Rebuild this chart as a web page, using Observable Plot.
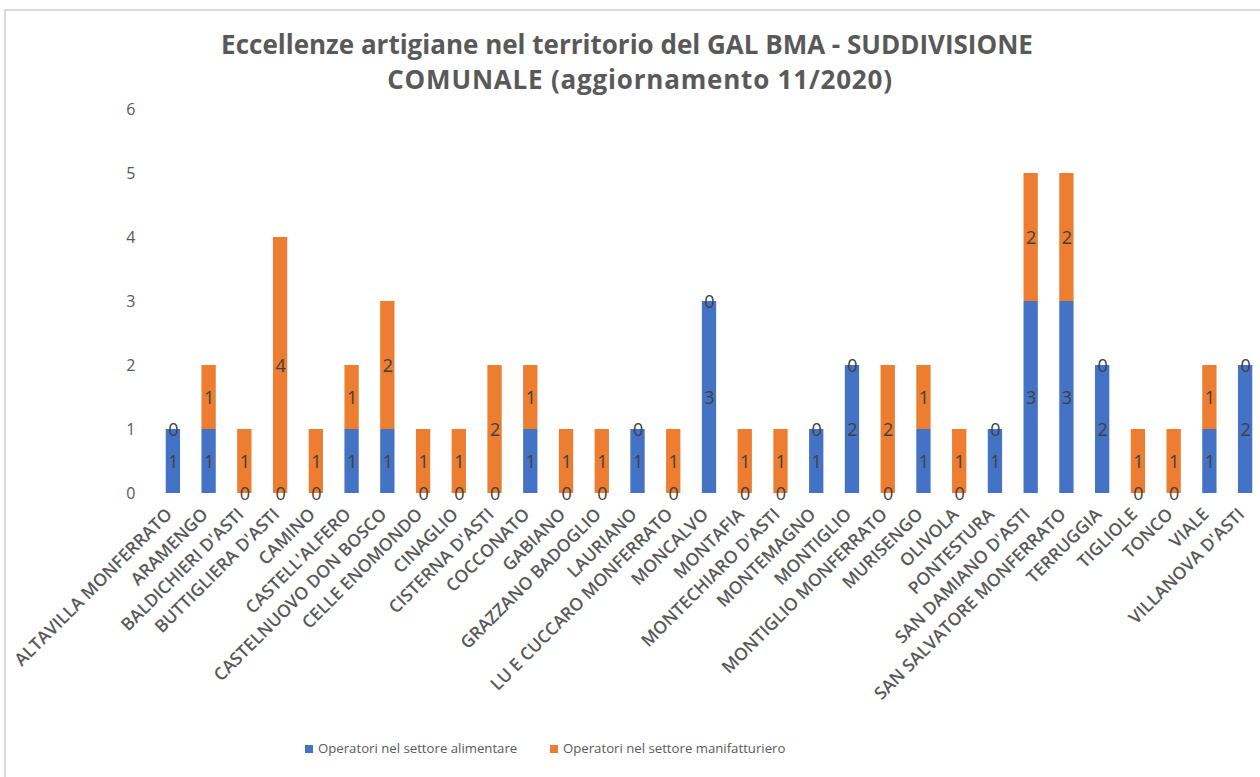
<!DOCTYPE html>
<html>
<head>
<meta charset="utf-8">
<script src="https://cdn.jsdelivr.net/npm/d3@7"></script>
<script src="https://cdn.jsdelivr.net/npm/@observablehq/plot@0.6"></script>
<style>
  html, body { margin: 0; padding: 0; background: #fff; }
  #wrap { position: relative; width: 1260px; height: 777px; overflow: hidden; font-family: "Open Sans", sans-serif; }
  #border { position: absolute; left: 4px; top: 9px; width: 1300px; height: 900px; border: 2px solid #d9d9d9; box-sizing: border-box; }
  .tl { position: absolute; width: 1000px; text-align: center; color: #595959; font-weight: 700; font-size: 26px; line-height: 35px; white-space: nowrap; }
  #legend { position: absolute; left: 0; top: 739px; width: 1260px; font-size: 13.2px; color: #595959; }
  .item { position: absolute; top: 0; white-space: nowrap; }
  .sw { display: inline-block; width: 8px; height: 8px; margin-right: 5px; vertical-align: 0px; }
  #chart { position: absolute; left: 0; top: 0; }
</style>
</head>
<body>
<div id="wrap">
  <div id="border"></div>
  <div id="chart"></div>
  <div class="tl" style="left:127px; top:27px;">Eccellenze artigiane nel territorio del GAL BMA - SUDDIVISIONE</div>
  <div class="tl" style="left:140px; top:62px; letter-spacing:0.8px;">COMUNALE (aggiornamento 11/2020)</div>
  <div id="legend"></div>
</div>
<script>
const comuni = [
  "ALTAVILLA MONFERRATO", "ARAMENGO", "BALDICHIERI D'ASTI", "BUTTIGLIERA D'ASTI", "CAMINO",
  "CASTELL'ALFERO", "CASTELNUOVO DON BOSCO", "CELLE ENOMONDO", "CINAGLIO", "CISTERNA D'ASTI",
  "COCCONATO", "GABIANO", "GRAZZANO BADOGLIO", "LAURIANO", "LU E CUCCARO MONFERRATO",
  "MONCALVO", "MONTAFIA", "MONTECHIARO D'ASTI", "MONTEMAGNO", "MONTIGLIO",
  "MONTIGLIO MONFERRATO", "MURISENGO", "OLIVOLA", "PONTESTURA", "SAN DAMIANO D'ASTI",
  "SAN SALVATORE MONFERRATO", "TERRUGGIA", "TIGLIOLE", "TONCO", "VIALE", "VILLANOVA D'ASTI"
];
const alimentare =     [1,1,0,0,0,1,1,0,0,0,1,0,0,1,0,3,0,0,1,2,0,1,0,1,3,3,2,0,0,1,2];
const manifatturiero = [0,1,1,4,1,1,2,1,1,2,1,1,1,0,1,0,1,1,0,0,2,1,1,0,2,2,0,1,1,1,0];
const seriesNames = ["Operatori nel settore alimentare", "Operatori nel settore manifatturiero"];
const seriesColors = ["#4472C4", "#ED7D31"];
const yTicks = [0, 1, 2, 3, 4, 5, 6];

const rows = [];
comuni.forEach((c, i) => {
  rows.push({comune: c, serie: seriesNames[0], value: alimentare[i]});
  rows.push({comune: c, serie: seriesNames[1], value: manifatturiero[i]});
});

const chart = Plot.plot({
  width: 1260,
  height: 777,
  marginTop: 109,
  marginBottom: 284,
  marginLeft: 155,
  marginRight: -3,
  style: {fontFamily: "Open Sans, sans-serif", background: "transparent", overflow: "visible"},
  x: {domain: comuni, paddingInner: 0.6, paddingOuter: 0.3, round: false, label: null},
  y: {domain: [0, 6], label: null},
  color: {domain: seriesNames, range: seriesColors},
  marks: [
    Plot.gridY(yTicks, {stroke: "#d9d9d9", strokeOpacity: 1, strokeWidth: 1.3, x1: 155, x2: 1260}),
    Plot.axisY(yTicks, {tickSize: 0, tickPadding: 20, fontSize: 16, fill: "#595959", label: null, tickFormat: d3.format("d")}),
    Plot.axisX({tickSize: 0, tickRotate: -45, tickPadding: 18, dx: -4, fontSize: 17.5, fontWeight: 600, fill: "#595959", label: null}),
    Plot.barY(rows, Plot.stackY({x: "comune", y: "value", fill: "serie", order: null})),
    Plot.text(rows, Plot.stackY({x: "comune", y: "value", z: "serie", order: null, text: "value", fontSize: 18, fill: "#404040", dy: 1}))
  ]
});
document.getElementById("chart").appendChild(chart);

const legend = document.getElementById("legend");
const lx = [305, 550];
seriesNames.forEach((s, i) => {
  const d = document.createElement("div");
  d.className = "item";
  d.style.left = lx[i] + "px";
  d.innerHTML = `<span class="sw" style="background:${seriesColors[i]}"></span>${s}`;
  legend.appendChild(d);
});
</script>
</body>
</html>
